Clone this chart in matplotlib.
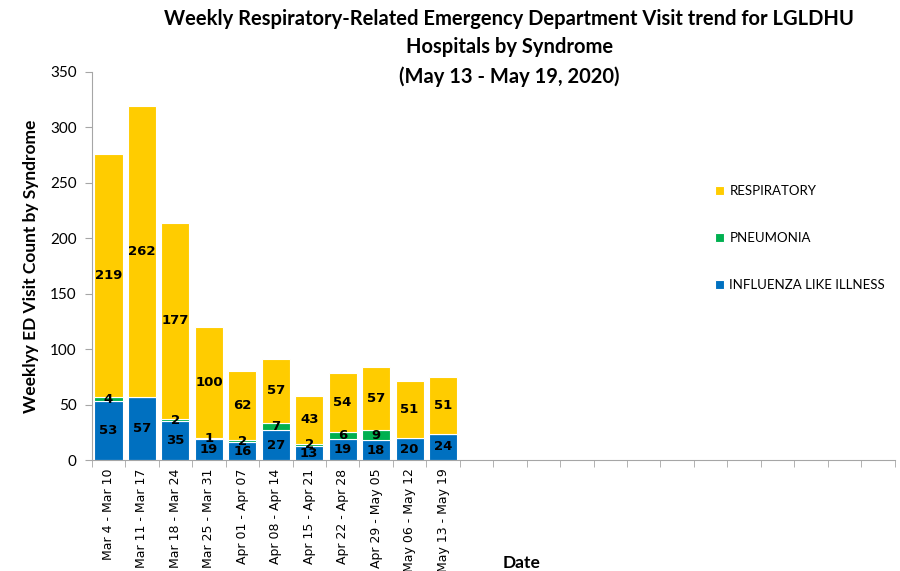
import matplotlib.pyplot as plt
import numpy as np

weeks = ["Mar 4 - Mar 10", "Mar 11 - Mar 17", "Mar 18 - Mar 24", "Mar 25 - Mar 31",
         "Apr 01 - Apr 07", "Apr 08 - Apr 14", "Apr 15 - Apr 21", "Apr 22 - Apr 28",
         "Apr 29 - May 05", "May 06 - May 12", "May 13 - May 19"]
n_slots = 24  # the axis keeps empty slots for the weeks still to come

influenza = [53, 57, 35, 19, 16, 27, 13, 19, 18, 20, 24]
pneumonia = [4, 0, 2, 1, 2, 7, 2, 6, 9, 0, 0]
respiratory = [219, 262, 177, 100, 62, 57, 43, 54, 57, 51, 51]

c_flu = "#0070C0"
c_pneu = "#00B050"
c_resp = "#FFCC00"
axis_grey = "#A6A6A6"
txt_font = "Lato"

fig = plt.figure(figsize=(9, 5.71), dpi=100)
ax = fig.add_axes([0.102, 0.194, 0.892, 0.68])

x = np.arange(len(weeks))
flu = np.array(influenza)
pne = np.array(pneumonia)
resp = np.array(respiratory)

b1 = ax.bar(x, flu, width=0.84, color=c_flu, edgecolor="white", linewidth=0.8)
b2 = ax.bar(x, pne, width=0.84, bottom=flu, color=c_pneu, edgecolor="white", linewidth=0.8)
b3 = ax.bar(x, resp, width=0.84, bottom=flu + pne, color=c_resp, edgecolor="white", linewidth=0.8)

for bars, vals in [(b1, flu), (b2, pne), (b3, resp)]:
    labels = [str(v) if v > 0 else "" for v in vals]
    ax.bar_label(bars, labels=labels, label_type="center",
                 fontsize=9.5, fontweight="bold", color="black")

ax.set_xlim(-0.5, n_slots - 0.5)
ax.set_ylim(0, 350)
ax.set_yticks(np.arange(0, 351, 50))
ax.set_xticks(np.arange(n_slots))
ax.set_xticklabels(weeks + [""] * (n_slots - len(weeks)), rotation=90, fontsize=9)
ax.set_xticks(np.arange(n_slots + 1) - 0.5, minor=True)
ax.tick_params(axis="x", which="major", length=0, pad=6)
ax.tick_params(axis="x", which="minor", length=5, color=axis_grey, direction="out")
ax.tick_params(axis="y", length=5, color=axis_grey, labelsize=11, pad=6)
for lab in ax.get_yticklabels():
    lab.set_fontfamily(txt_font)

for side in ["top", "right"]:
    ax.spines[side].set_visible(False)
for side in ["left", "bottom"]:
    ax.spines[side].set_color(axis_grey)

ax.set_ylabel("Weeklyy ED Visit Count by Syndrome", fontfamily=txt_font,
              fontweight="bold", fontsize=12.5, labelpad=8)

fig.text(0.58, 0.0, "Date", fontfamily=txt_font, fontweight="bold", fontsize=12.5,
         ha="center", va="bottom")

fig.suptitle("Weekly Respiratory-Related Emergency Department Visit trend for LGLDHU\n"
             "Hospitals by Syndrome\n(May 13 - May 19, 2020)",
             x=0.566, y=0.985, fontfamily=txt_font, fontweight="bold", fontsize=14.5,
             linespacing=1.55, va="top")

leg = fig.legend([b3, b2, b1], ["RESPIRATORY", "PNEUMONIA", "INFLUENZA LIKE ILLNESS"],
                 loc="center left", bbox_to_anchor=(0.787, 1 - 238 / 571),
                 frameon=False, prop={"family": txt_font, "size": 9.5},
                 handlelength=0.7, handleheight=0.7, handletextpad=0.4,
                 labelspacing=2.65, borderpad=0)

fig.savefig("out.png", dpi=100)
